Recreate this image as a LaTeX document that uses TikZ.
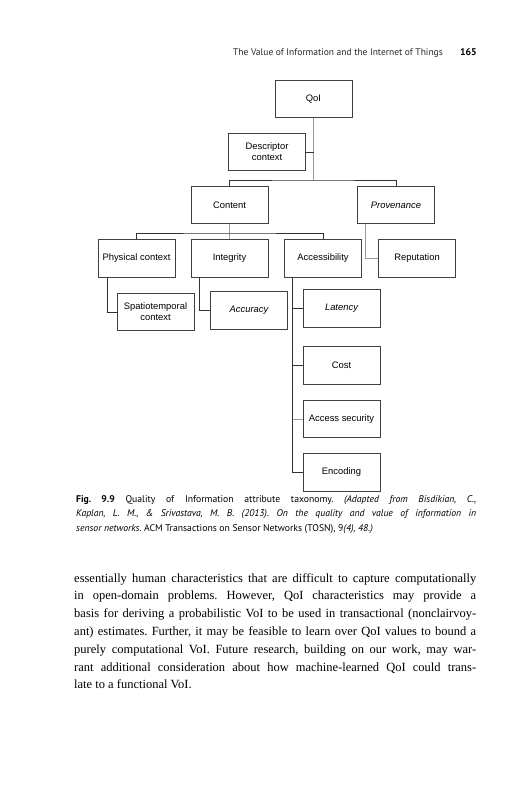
\documentclass[tikz,border=0pt]{standalone}
\usepackage{fontspec}
\setmainfont{Liberation Serif}
\newfontfamily\boxfont{Liberation Sans}
\newfontfamily\capfont{PT Sans}
\begin{document}
\frenchspacing
\begin{tikzpicture}[x=1pt,y=-1pt,
  box/.style={draw=black!75, line width=0.6pt, minimum width=77pt, minimum height=37.5pt,
    inner sep=1pt, align=center, font=\boxfont\fontsize{9.4}{11}\selectfont},
  link/.style={draw=black!80, line width=0.6pt},
  glink/.style={draw=black!40, line width=0.9pt}]
\useasboundingbox (0,0) rectangle (531,800);
\fill[white] (0,0) rectangle (531,800);

% header
\node[anchor=base west, inner sep=0, font=\capfont\fontsize{9.5}{11}\selectfont, text=black!85] (hdr) at (233,56) {The Value of Information and the Internet of Things};
\node[anchor=base east, inner sep=0, font=\capfont\bfseries\fontsize{9.8}{11}\selectfont] (pg) at (477,56) {165};

% boxes
\node[box] (qoi) at (313.5,99) {QoI};
\node[box] (desc) at (267,152) {Descriptor\\context};
\node[box] (content) at (229.5,205) {Content};
\node[box] (prov) at (396,205) {\itshape Provenance};
\node[box] (phys) at (136.5,258.5) {Physical context};
\node[box] (integ) at (229.5,258.5) {Integrity};
\node[box] (access) at (323,258.5) {Accessibility};
\node[box] (rep) at (417,258.5) {Reputation};
\node[box] (spatio) at (155.5,312) {Spatiotemporal\\context};
\node[box] (accur) at (249,310.5) {\itshape Accuracy};
\node[box] (lat) at (341.5,308.5) {\itshape Latency};
\node[box] (cost) at (341.5,365.5) {Cost};
\node[box] (asec) at (341.5,419) {Access security};
\node[box] (enc) at (341.5,472.5) {Encoding};

% connectors
\coordinate (j1) at (313.5,180);
\draw[glink] (qoi.south) -- (j1);
\draw[link] (content.north) |- (j1) -| (prov.north);
\draw[link] (desc.east) -- (desc.east -| j1);
\coordinate (j2) at (229.5,233);
\draw[glink] (content.south) -- (integ.north);
\draw[link] (phys.north) |- (j2) -| (access.north);
\draw[glink] ([xshift=-31pt]prov.south) |- (rep.west);
\draw[link] ([xshift=-29.5pt]phys.south) |- (spatio.west);
\draw[link] ([xshift=-30.5pt]integ.south) |- (accur.west);
\coordinate (a0) at ([xshift=-30.5pt]access.south);
\draw[link] (a0) |- (enc.west);
\draw[link] (lat.west -| a0) -- (lat.west);
\draw[link] (cost.west -| a0) -- (cost.west);
\draw[glink] (asec.west -| a0) -- (asec.west);

% caption
\node[anchor=base west, inner sep=0] (cap) at (76,502) {\parbox[t]{400pt}{\capfont\fontsize{9.7}{14.5}\selectfont
{\bfseries Fig.~9.9} Quality of Information attribute taxonomy. \textit{(Adapted from Bisdikian, C.,}\linebreak
\textit{Kaplan, L.~M., \& Srivastava, M.~B. (2013). On the quality and value of information in}\linebreak
\textit{sensor networks.} ACM Transactions on Sensor Networks (TOSN), 9\textit{(4), 48.)}}};

% body text
\node[anchor=base west, inner sep=0] (body) at (74,582) {\parbox[t]{402pt}{\fontsize{12.5}{17.8}\selectfont
essentially human characteristics that are difficult to capture computationally\linebreak
in open-domain problems. However, QoI characteristics may provide a\linebreak
basis for deriving a probabilistic VoI to be used in transactional (nonclairvoy-\linebreak
ant) estimates. Further, it may be feasible to learn over QoI values to bound a\linebreak
purely computational VoI. Future research, building on our work, may war-\linebreak
rant additional consideration about how machine-learned QoI could trans-\linebreak
late to a functional VoI.}};
\end{tikzpicture}
\end{document}
